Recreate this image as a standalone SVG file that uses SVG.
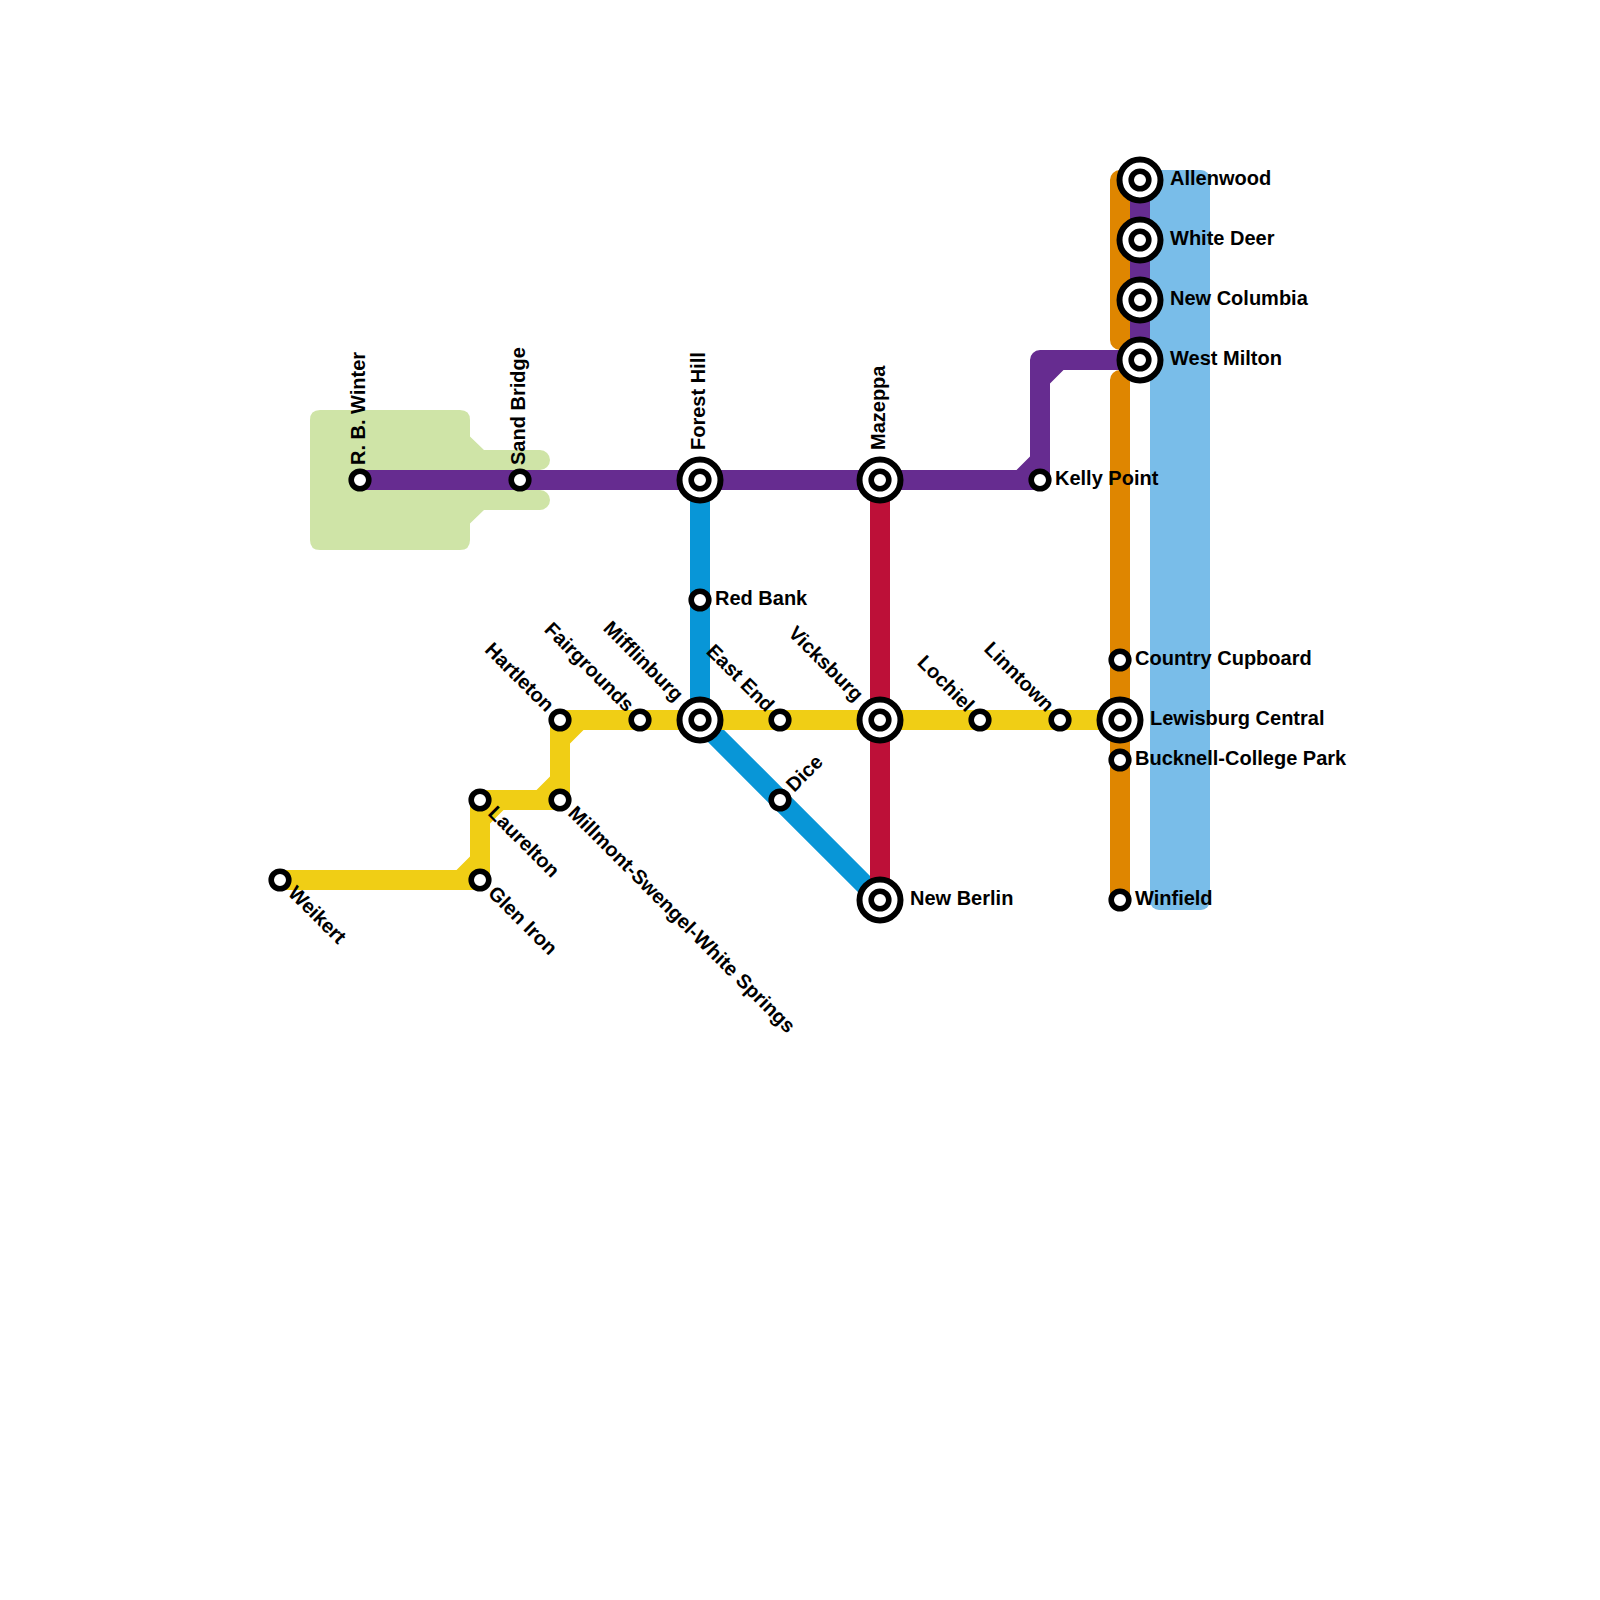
<svg xmlns="http://www.w3.org/2000/svg" width="1600" height="1600" viewBox="0 0 1600 1600">
<style>
.bg{fill:#fff}
.l{fill:none;stroke-width:20;stroke-linejoin:round;stroke-linecap:round}
.b{stroke-linecap:butt}
.ring{fill:#fff;stroke:#000;stroke-width:5.600}
.outer{fill:#fff;stroke:#000;stroke-width:6}
text{font-family:"Liberation Sans",Arial,sans-serif;font-size:20px;font-weight:bold;fill:#000}
.e{text-anchor:end}
</style>
<defs>
<g id="s"><circle class="ring" r="8.800"/></g>
<g id="i"><circle class="outer" r="20.500"/><circle class="ring" r="8.800"/></g>
</defs>
<rect class="bg" width="1600" height="1600"/>
<g id="connectors">
<g id="green">
<path fill="#CFE4A7" d="M320 410H460Q470 410 470 420V436.500L484 450H540A10 10 0 0 1 540 470V490A10 10 0 0 1 540 510H484L470 523.500V540Q470 550 460 550H320Q310 550 310 540V420Q310 410 320 410Z"/>
</g>
<g id="lightblue">
<rect x="1150" y="170" width="60" height="740" rx="9" fill="#79BDE9"/>
</g>
<g id="orange">
<path class="l" stroke="#DF8600" d="M1120 180V340M1120 380V900"/>
</g>
<g id="purple">
<path class="l" stroke="#662C90" d="M360 480H1040V360H1140M1140 180V360"/>
<path fill="#662C90" d="M1050 370H1063.500L1050 383.500ZM1030 470H1016.500L1030 456.500Z"/>
</g>
<g id="blue">
<path class="l b" stroke="#0896D7" d="M700 480V720L880 900"/>
</g>
<g id="red">
<path class="l b" stroke="#BD1038" d="M880 480V900"/>
</g>
<g id="yellow">
<path class="l b" stroke="#F0CE15" d="M280 880H480V800H560V720H1120"/>
<path fill="#F0CE15" d="M470 870H456.500L470 856.500ZM490 810H503.500L490 823.500ZM550 790H536.500L550 776.500ZM570 730H583.500L570 743.500Z"/>
</g>
</g>
<g id="n-rbwinter" transform="translate(360 480)"><use href="#s"/><text transform="rotate(-90)" x="15" y="5">R. B. Winter</text></g>
<g id="n-sandbridge" transform="translate(520 480)"><use href="#s"/><text transform="rotate(-90)" x="15" y="5">Sand Bridge</text></g>
<g id="n-foresthill" transform="translate(700 480)"><use href="#i"/><text transform="rotate(-90)" x="30" y="5">Forest Hill</text></g>
<g id="n-mazeppa" transform="translate(880 480)"><use href="#i"/><text transform="rotate(-90)" x="30" y="5">Mazeppa</text></g>
<g id="n-kellypoint" transform="translate(1040 480)"><use href="#s"/><text x="15" y="5">Kelly Point</text></g>
<g id="n-allenwood" transform="translate(1140 180)"><use href="#i"/><text x="30" y="5">Allenwood</text></g>
<g id="n-whitedeer" transform="translate(1140 240)"><use href="#i"/><text x="30" y="5">White Deer</text></g>
<g id="n-newcolumbia" transform="translate(1140 300)"><use href="#i"/><text x="30" y="5">New Columbia</text></g>
<g id="n-westmilton" transform="translate(1140 360)"><use href="#i"/><text x="30" y="5">West Milton</text></g>
<g id="n-redbank" transform="translate(700 600)"><use href="#s"/><text x="15" y="5">Red Bank</text></g>
<g id="n-mifflinburg" transform="translate(700 720)"><use href="#i"/><text class="e" transform="rotate(45)" x="-30" y="5">Mifflinburg</text></g>
<g id="n-eastend" transform="translate(780 720)"><use href="#s"/><text class="e" transform="rotate(45)" x="-15" y="5">East End</text></g>
<g id="n-fairgrounds" transform="translate(640 720)"><use href="#s"/><text class="e" transform="rotate(45)" x="-15" y="5">Fairgrounds</text></g>
<g id="n-hartleton" transform="translate(560 720)"><use href="#s"/><text class="e" transform="rotate(45)" x="-15" y="5">Hartleton</text></g>
<g id="n-millmont" transform="translate(560 800)"><use href="#s"/><text transform="rotate(45)" x="15" y="5">Millmont-Swengel-White Springs</text></g>
<g id="n-laurelton" transform="translate(480 800)"><use href="#s"/><text transform="rotate(45)" x="15" y="5">Laurelton</text></g>
<g id="n-gleniron" transform="translate(480 880)"><use href="#s"/><text transform="rotate(45)" x="15" y="5">Glen Iron</text></g>
<g id="n-weikert" transform="translate(280 880)"><use href="#s"/><text transform="rotate(45)" x="15" y="5">Weikert</text></g>
<g id="n-dice" transform="translate(780 800)"><use href="#s"/><text transform="rotate(-45)" x="15" y="5">Dice</text></g>
<g id="n-vicksburg" transform="translate(880 720)"><use href="#i"/><text class="e" transform="rotate(45)" x="-30" y="5">Vicksburg</text></g>
<g id="n-lochiel" transform="translate(980 720)"><use href="#s"/><text class="e" transform="rotate(45)" x="-15" y="5">Lochiel</text></g>
<g id="n-linntown" transform="translate(1060 720)"><use href="#s"/><text class="e" transform="rotate(45)" x="-15" y="5">Linntown</text></g>
<g id="n-lewisburg" transform="translate(1120 720)"><use href="#i"/><text x="30" y="5">Lewisburg Central</text></g>
<g id="n-country" transform="translate(1120 660)"><use href="#s"/><text x="15" y="5">Country Cupboard</text></g>
<g id="n-bucknell" transform="translate(1120 760)"><use href="#s"/><text x="15" y="5">Bucknell-College Park</text></g>
<g id="n-winfield" transform="translate(1120 900)"><use href="#s"/><text x="15" y="5">Winfield</text></g>
<g id="n-newberlin" transform="translate(880 900)"><use href="#i"/><text x="30" y="5">New Berlin</text></g>
</svg>
